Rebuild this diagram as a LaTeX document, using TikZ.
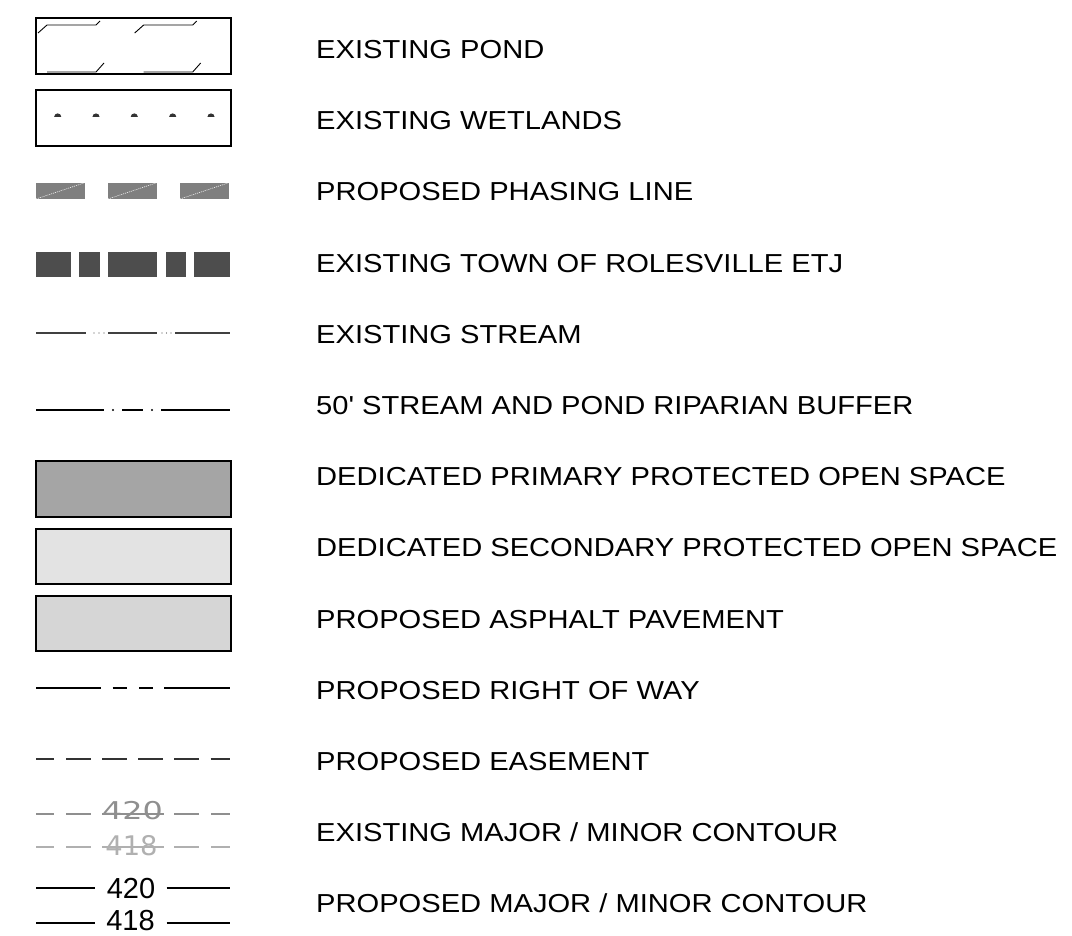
\documentclass[tikz,border=0pt]{standalone}
\usepackage{fontspec}
\newfontfamily\legendfont[FakeStretch=1.12,Ligatures=TeXOff]{Liberation Sans}
\newfontfamily\contourfont{Liberation Sans}
\newfontfamily\excontourfont[FakeStretch=1.3]{DejaVu Sans}
\definecolor{phasefill}{HTML}{7F7F7F}
\definecolor{etjfill}{HTML}{4D4D4D}
\definecolor{primfill}{HTML}{A5A5A5}
\definecolor{secfill}{HTML}{E3E3E3}
\definecolor{asphfill}{HTML}{D6D6D6}
\definecolor{exmajor}{HTML}{8F8F8F}
\definecolor{exminor}{HTML}{B0B0B0}
\tikzset{
 keybox/.style={draw=black,line width=1.6pt},
 lbl/.style={anchor=base west,inner sep=0pt,font=\legendfont\fontsize{26}{30}\selectfont},
 cnum/.style={inner sep=0pt,font=\contourfont\fontsize{29}{32}\selectfont},
 excnum/.style={inner sep=0pt,font=\excontourfont\fontsize{24.5}{28}\selectfont}
}
\begin{document}
\begin{tikzpicture}[x=1pt,y=-1pt]
 \useasboundingbox (0,0) rectangle (1072,936);
 % pond and wetlands
 \draw[keybox] (36,18) rectangle (231,74);
 \foreach \dx in {0,96.7}{\draw[line width=0.9pt,shift={(\dx,0)}] (38,33) -- (47,25) -- (96,25) -- (100,21) (47,72) -- (96,72) -- (104,63);}
 \draw[keybox] (36,90) rectangle (231,146);
 \foreach \x in {57.7,96,134.3,172.7,211}{\fill[black!80] (\x,117) ++(-3.6pt,0) arc[start angle=180,end angle=0,radius=3.6pt] -- cycle;}
 % phasing line and ETJ
 \foreach \x in {36,108,180}{\fill[phasefill] (\x,183) rectangle +(49,16);
  \draw[white,line width=0.6pt,dash pattern=on 1pt off 1pt] (\x,199) -- +(48,-16);}
 \foreach \a/\b in {36/71,79/99.5,108/157,165.5/186,194/229.5}{\fill[etjfill] (\a,252) rectangle (\b,277);}
 % stream and buffer
 \foreach \a/\b in {36/85.7,108/156.7,175/229.7}{\draw[line width=1.1pt,black!75] (\a,333) -- (\b,333);}
 \foreach \x in {94,99,104,162,166.5,171}{\fill[black!70] (\x,333) circle (0.7pt);}
 \foreach \a/\b in {36/104,122/143,161/229.7}{\draw[line width=1.8pt] (\a,410) -- (\b,410);}
 \foreach \x in {113,152}{\fill (\x,410) circle (1.1pt);}
 % open space and pavement
 \draw[keybox,fill=primfill] (36,461) rectangle (231,517);
 \draw[keybox,fill=secfill] (36,529) rectangle (231,584);
 \draw[keybox,fill=asphfill] (36,596) rectangle (231,651);
 % right of way and easement
 \foreach \a/\b in {36/101,112.7/126.7,139/153.3,164.3/229.7}{\draw[line width=1.8pt] (\a,688) -- (\b,688);}
 \foreach \a/\b in {36/54.3,66/90.7,102.3/127.3,138.3/163.3,174.3/199.3,210.7/229.7}{\draw[line width=1.1pt,black!80] (\a,759) -- (\b,759);}
 % contours
 \foreach \a/\b in {36/54,66/91,102/164,174/199,211/230}{\draw[line width=1.5pt,exmajor] (\a,814) -- (\b,814);
  \draw[line width=1.1pt,exminor] (\a,847) -- (\b,847);}
 \node[excnum,text=exmajor] (exmaj) at (132.5,811) {420};
 \node[excnum,text=exminor,font=\excontourfont\fontsize{27}{30}\selectfont,xscale=0.78] (exmin) at (131.5,846) {418};
 \foreach \a/\b in {36/95,166.7/229.7}{\draw[line width=1.8pt] (\a,888) -- (\b,888); \draw[line width=1.1pt] (\a,923) -- (\b,923);}
 \node[cnum] (prmaj) at (131,888.5) {420};
 \node[cnum] (prmin) at (130.5,921) {418};
 % labels
 \foreach \t [count=\i from 0] in {EXISTING POND,EXISTING WETLANDS,PROPOSED PHASING LINE,EXISTING TOWN OF ROLESVILLE ETJ,EXISTING STREAM,50' STREAM AND POND RIPARIAN BUFFER,DEDICATED PRIMARY PROTECTED OPEN SPACE,DEDICATED SECONDARY PROTECTED OPEN SPACE,PROPOSED ASPHALT PAVEMENT,PROPOSED RIGHT OF WAY,PROPOSED EASEMENT,EXISTING MAJOR / MINOR CONTOUR,PROPOSED MAJOR / MINOR CONTOUR}
  {\node[lbl] (lbl\i) at (316,58.5+71.2*\i) {\t};}
\end{tikzpicture}
\end{document}
